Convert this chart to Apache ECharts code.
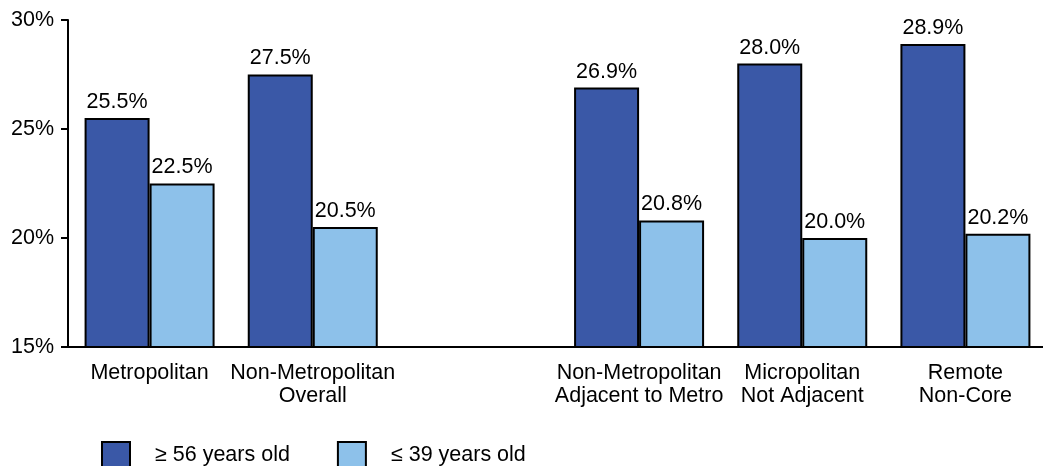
<!DOCTYPE html>
<html>
<head>
<meta charset="utf-8">
<script src="https://cdn.jsdelivr.net/npm/echarts@6/dist/echarts.min.js"></script>
<style>html,body{margin:0;padding:0;background:#fff;overflow:hidden;}#c{width:1047px;height:466px;}</style>
</head>
<body>
<div id="c"></div>
<script>
const categories = ['Metropolitan', 'Non-Metropolitan\nOverall', '', 'Non-Metropolitan\nAdjacent to Metro', 'Micropolitan\nNot Adjacent', 'Remote\nNon-Core'];
const seriesNames = ['\u2265 56 years old', '\u2264 39 years old'];
const olderValues = [25.5, 27.5, '-', 26.9, 28.0, 28.9];
const youngerValues = [22.5, 20.5, '-', 20.8, 20.0, 20.2];
const yTicks = [15, 20, 25, 30];

const FONT = '"Liberation Sans", Arial, sans-serif';
const FS = 21.5;
const chart = echarts.init(document.getElementById('c'));
const mkSeries = (name, data, color) => ({
  name, type: 'bar', data,
  barWidth: 65, barGap: '0%',
  itemStyle: { color, borderColor: '#000', borderWidth: 2 },
  label: {
    show: true, position: 'top', distance: 5,
    fontFamily: FONT, fontSize: FS, color: '#000',
    formatter: p => Number(p.value).toFixed(1) + '%'
  }
});
chart.setOption({
  animation: false,
  textStyle: { fontFamily: FONT },
  grid: { left: 68, top: 20, right: 0, height: 327, containLabel: false },
  legend: {
    left: 101, top: 441, padding: 0, itemWidth: 28, itemHeight: 27, itemGap: 47,
    icon: 'rect',
    itemStyle: { borderColor: '#000', borderWidth: 2 },
    textStyle: { fontFamily: FONT, fontSize: FS, color: '#000', padding: [0, 0, 0, 20] },
    data: seriesNames
  },
  xAxis: {
    type: 'category', data: categories,
    axisLine: { lineStyle: { color: '#000', width: 2 } },
    axisTick: { show: false },
    axisLabel: { interval: 0, fontFamily: FONT, fontSize: FS, color: '#000', lineHeight: 23, margin: 15 }
  },
  yAxis: {
    type: 'value', min: yTicks[0], max: yTicks[yTicks.length - 1], interval: 5,
    splitLine: { show: false },
    axisLine: { show: true, lineStyle: { color: '#000', width: 2 } },
    axisTick: { show: true, length: 7, lineStyle: { color: '#000', width: 2 } },
    axisLabel: { fontFamily: FONT, fontSize: FS, color: '#000', margin: 14, formatter: '{value}%' }
  },
  series: [
    mkSeries(seriesNames[0], olderValues, '#3A58A7'),
    mkSeries(seriesNames[1], youngerValues, '#8DC1EA')
  ]
});
</script>
</body>
</html>
